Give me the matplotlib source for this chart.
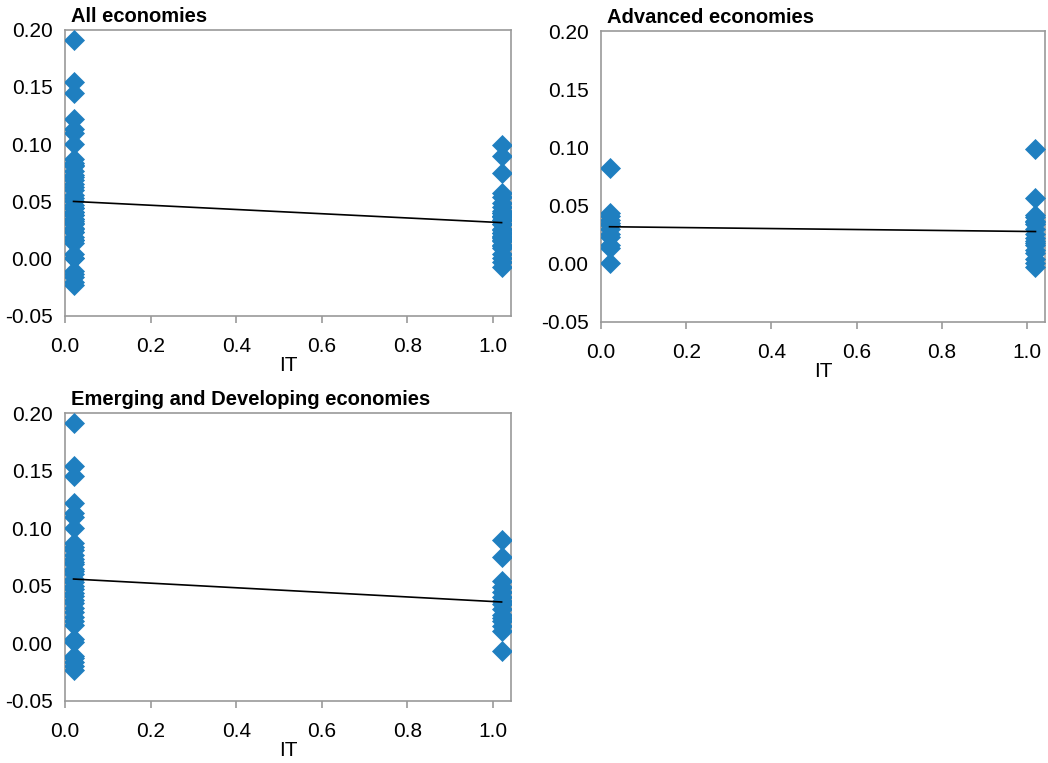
import matplotlib.pyplot as plt
import numpy as np

plt.rcParams['font.family'] = ['Liberation Sans', 'DejaVu Sans']

# dependent variable values
# non-IT (x ~ 0.02) and IT (x ~ 1.02) groups
adv_non_it = [0.082, 0.044, 0.041, 0.038, 0.035, 0.033, 0.030, 0.026,
              0.023, 0.016, 0.014, 0.001]
adv_it = [0.099, 0.057, 0.042, 0.040, 0.037, 0.036, 0.034, 0.030, 0.026,
          0.022, 0.020, 0.018, 0.016, 0.012, 0.009, 0.004, 0.001, -0.003]
emd_non_it = [0.191, 0.154, 0.145, 0.122, 0.113, 0.110, 0.100, 0.087,
              0.084, 0.081, 0.077, 0.073, 0.071, 0.069, 0.065, 0.063,
              0.060, 0.056, 0.053, 0.050, 0.047, 0.044, 0.041, 0.038,
              0.035, 0.031, 0.027, 0.023, 0.019, 0.016, 0.004, 0.001,
              -0.011, -0.013, -0.016, -0.020, -0.023]
emd_it = [0.090, 0.075, 0.054, 0.049, 0.045, 0.040, 0.037, 0.034, 0.030,
          0.025, 0.022, 0.019, 0.015, 0.011, -0.007]

x_non_it = 0.02
x_it = 1.02

panels = [
    ('All economies', adv_non_it + emd_non_it, adv_it + emd_it),
    ('Advanced economies', adv_non_it, adv_it),
    ('Emerging and Developing economies', emd_non_it, emd_it),
]

# axes boxes in figure fractions
boxes = [
    [0.062, 0.586, 0.4256, 0.375],
    [0.5735, 0.578, 0.4235, 0.381],
    [0.062, 0.0813, 0.4256, 0.3774],
]

fig = plt.figure(figsize=(10.48, 7.63), dpi=100)

for (title, y0, y1), box in zip(panels, boxes):
    ax = fig.add_axes(box)
    xs = np.array([x_non_it] * len(y0) + [x_it] * len(y1))
    ys = np.array(y0 + y1)
    ax.scatter(xs, ys, marker='D', s=115, color='#1f7fc0', zorder=3,
               linewidths=0)

    # linear trend line
    slope, icpt = np.polyfit(xs, ys, 1)
    lx = np.array([x_non_it, x_it])
    ax.plot(lx, icpt + slope * lx, color='black', lw=1.2, zorder=4)

    ax.set_xlim(0, 1.042)
    ax.set_ylim(-0.05, 0.20)
    ax.set_xticks([0.0, 0.2, 0.4, 0.6, 0.8, 1.0])
    ax.set_xticklabels(['0.0', '0.2', '0.4', '0.6', '0.8', '1.0'])
    ax.set_yticks([-0.05, 0.0, 0.05, 0.10, 0.15, 0.20])
    ax.set_yticklabels(['-0.05', '0.00', '0.05', '0.10', '0.15', '0.20'])
    ax.tick_params(axis='x', length=5, width=1.2, color='#999999',
                   labelsize=15, pad=10)
    ax.tick_params(axis='y', length=0, labelsize=15, pad=9)
    for sp in ax.spines.values():
        sp.set_color('#999999')
        sp.set_linewidth(1.2)
    ax.set_xlabel('IT', fontsize=15, labelpad=0)
    ax.text(0.014, 1.028, title, transform=ax.transAxes, fontsize=14.5,
            fontweight='bold', ha='left', va='baseline')

fig.savefig('out.png', dpi=100)
